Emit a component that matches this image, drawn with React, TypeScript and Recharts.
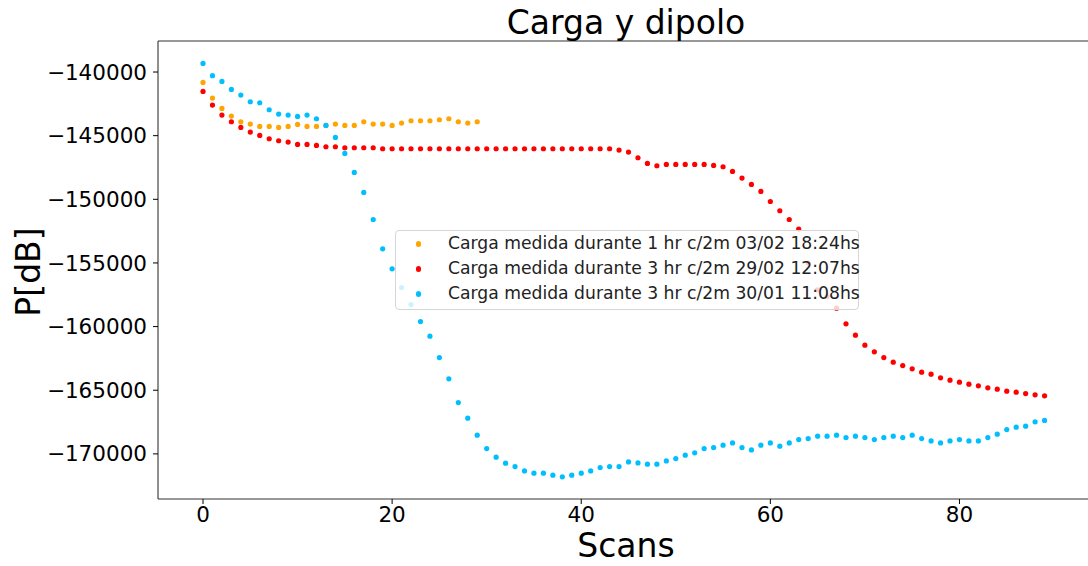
import { ScatterChart, Scatter, XAxis, YAxis, Legend, ReferenceLine } from 'recharts'

// scan index = position in each array
const cargaMarzo = [
  -140817, -142044, -142861, -143458, -143906, -144087, -144276, -144276, -144354, -144276,
  -144118, -144276, -144276, -144197, -144087, -144197, -144197, -143906, -144087, -144087,
  -144197, -144009, -143828, -143828, -143828, -143749, -143671, -143906, -144009, -143906,
]

const cargaFebrero = [
  -141525, -142594, -143380, -143906, -144354, -144716, -144983, -145243, -145400, -145502,
  -145691, -145691, -145769, -145871, -145871, -145950, -145950, -145950, -145950, -146029,
  -146029, -146029, -146029, -146029, -146029, -146029, -146029, -146029, -146029, -146029,
  -146029, -146029, -146029, -146029, -146029, -146029, -146029, -146029, -146029, -146029,
  -146029, -146029, -146029, -146029, -146131, -146288, -146736, -147184, -147365, -147263,
  -147263, -147263, -147263, -147263, -147341, -147443, -147813, -148332, -148835, -149385,
  -150171, -150900, -151586, -152340, -155013, -157111, -157638, -158550, -159784, -160672,
  -161458, -161984, -162432, -162794, -163061, -163321, -163580, -163737, -164028, -164209,
  -164366, -164523, -164657, -164814, -164916, -165073, -165152, -165262, -165364, -165443,
]

const cargaEnero = [
  -139324, -140291, -140739, -141368, -141808, -142334, -142413, -142963, -143301, -143380,
  -143490, -143380, -143671, -144197, -145140, -146398, -147891, -149463, -151586, -153889,
  -155461, -156930, -158267, -159603, -160750, -162432, -164107, -165969, -167196, -168532,
  -169585, -170261, -170733, -170999, -171338, -171519, -171519, -171676, -171800, -171676,
  -171519, -171338, -171078, -170999, -170999, -170630, -170709, -170811, -170811, -170552,
  -170371, -170104, -169922, -169585, -169506, -169318, -169137, -169506, -169687, -169318,
  -169137, -169396, -169137, -168878, -168799, -168610, -168610, -168532, -168720, -168610,
  -168720, -168878, -168720, -168610, -168720, -168532, -168799, -168980, -169137, -168980,
  -168878, -168980, -168980, -168720, -168453, -168091, -167903, -167824, -167486, -167370,
]

const SERIES_NAMES = [
  'Carga medida durante 1 hr c/2m 03/02 18:24hs',
  'Carga medida durante 3 hr c/2m 29/02 12:07hs',
  'Carga medida durante 3 hr c/2m 30/01 11:08hs',
]
const SERIES_COLORS = ['#ffa500', '#ff0000', '#00bfff']

const X_TICKS = [0, 20, 40, 60, 80]
const Y_TICKS = [-170000, -165000, -160000, -155000, -150000, -145000, -140000]
const X_DOMAIN = [-4.76, 93.7]
const Y_DOMAIN = [-173546, -137563]

const FONT = "'DejaVu Sans', sans-serif"
const TICK_SIZE = 21.5

const toPoints = (vals: number[]) => vals.map((y, x) => ({ x, y }))
const minus = (v: number) => String(v).replace('-', '\u2212')

const dot = (color: string) => (props: any) => (
  <circle cx={props.cx} cy={props.cy} r={2.6} fill={color} />
)

const LegendBox = () => (
  <div
    style={{
      background: 'rgba(255,255,255,0.8)',
      border: '1px solid #d6d6d6',
      borderRadius: 4,
      width: 462,
      height: 78,
      fontFamily: FONT,
      fontSize: 17.2,
      color: '#222',
      boxSizing: 'content-box',
    }}
  >
    {SERIES_NAMES.map((name, i) => (
      <div key={name} style={{ position: 'relative', height: 25, lineHeight: '25px', whiteSpace: 'nowrap' }}>
        <span
          style={{
            position: 'absolute',
            left: 19.5,
            top: 10,
            width: 5.5,
            height: 5.5,
            borderRadius: '50%',
            background: SERIES_COLORS[i],
          }}
        />
        <span style={{ position: 'absolute', left: 52 }}>{name}</span>
      </div>
    ))}
  </div>
)

export default function App() {
  const series = [cargaMarzo, cargaFebrero, cargaEnero]
  return (
    <div style={{ position: 'absolute', left: 0, top: 0, width: 1088, height: 566, overflow: 'hidden', background: '#fff' }}>
      <ScatterChart width={1088} height={566} margin={{ top: 41, right: -1, bottom: 0, left: 0 }}>
        <XAxis
          type="number"
          dataKey="x"
          domain={X_DOMAIN}
          allowDataOverflow
          ticks={X_TICKS}
          height={67}
          tickSize={5}
          tickMargin={3}
          tick={{ fontSize: TICK_SIZE, fill: '#000', fontFamily: FONT }}
          tickLine={{ stroke: '#000' }}
          axisLine={{ stroke: '#333', strokeWidth: 1.1 }}
          label={{
            content: () => (
              <text x={626} y={557} textAnchor="middle" fontSize={33} fontFamily={FONT} fill="#000">
                Scans
              </text>
            ),
          }}
        />
        <YAxis
          type="number"
          dataKey="y"
          domain={Y_DOMAIN}
          allowDataOverflow
          ticks={Y_TICKS}
          width={158}
          tickSize={5}
          tickMargin={6}
          tickFormatter={minus}
          tick={{ fontSize: TICK_SIZE, fill: '#000', fontFamily: FONT }}
          tickLine={{ stroke: '#000' }}
          axisLine={{ stroke: '#333', strokeWidth: 1.1 }}
          label={{
            content: () => (
              <text
                x={40}
                y={272}
                transform="rotate(-90, 40, 272)"
                textAnchor="middle"
                fontSize={33}
                fontFamily={FONT}
                fill="#000"
              >
                P[dB]
              </text>
            ),
          }}
        />
        <ReferenceLine
          y={Y_DOMAIN[1]}
          stroke="#333"
          strokeWidth={1.1}
          label={{
            content: () => (
              <text x={626} y={33.5} textAnchor="middle" fontSize={33} fontFamily={FONT} fill="#000">
                Carga y dipolo
              </text>
            ),
          }}
        />
        {series.map((vals, i) => (
          <Scatter
            key={SERIES_NAMES[i]}
            name={SERIES_NAMES[i]}
            data={toPoints(vals)}
            fill={SERIES_COLORS[i]}
            shape={dot(SERIES_COLORS[i])}
            isAnimationActive={false}
          />
        ))}
        <Legend
          layout="vertical"
          align="center"
          verticalAlign="middle"
          content={() => <LegendBox />}
          wrapperStyle={{ left: 395, top: 230, width: 'auto', margin: 0 }}
        />
      </ScatterChart>
    </div>
  )
}
